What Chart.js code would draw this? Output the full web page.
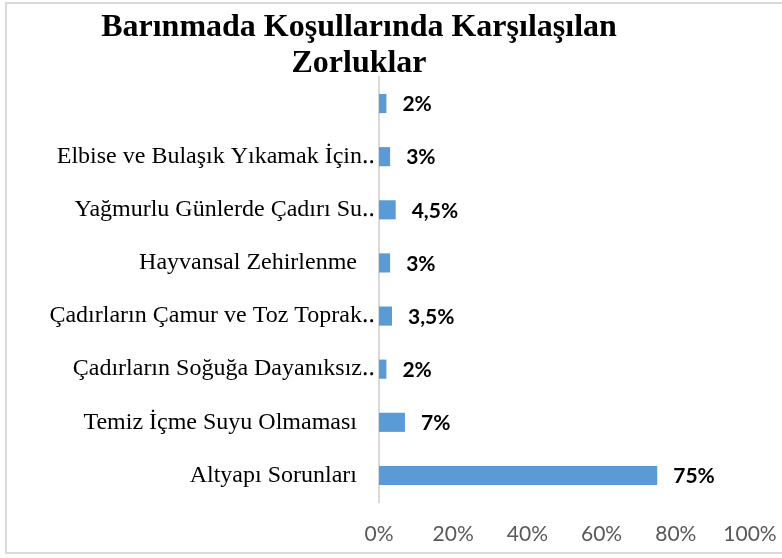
<!DOCTYPE html>
<html>
<head>
<meta charset="utf-8">
<script src="https://cdn.jsdelivr.net/npm/chart.js@4/dist/chart.umd.min.js"></script>
<style>
  html, body { margin: 0; padding: 0; background: #fff; }
  #wrap { position: relative; width: 782px; height: 558px; overflow: hidden; }
  #frame {
    position: absolute; left: 5px; top: 2px; width: 800px; height: 552px;
    border: 2px solid #d9d9d9; box-sizing: border-box;
  }
  #chart { position: absolute; left: 0; top: 0; }
</style>
</head>
<body>
<div id="wrap">
  <div id="frame"></div>
  <canvas id="chart" width="782" height="558"></canvas>
</div>
<script>
// Chart data
const titleLines = ['Barınmada Koşullarında Karşılaşılan', 'Zorluklar'];
const categories = [
    '',
    'Elbise ve Bulaşık Yıkamak İçin‥',
    'Yağmurlu Günlerde Çadırı Su‥',
    'Hayvansal Zehirlenme   ',
    'Çadırların Çamur ve Toz Toprak‥',
    'Çadırların Soğuğa Dayanıksız‥',
    'Temiz İçme Suyu Olmaması   ',
    'Altyapı Sorunları   '
];
const values = [2, 3, 4.5, 3, 3.5, 2, 7, 75];
const xTicks = [0, 20, 40, 60, 80, 100];

const barColor = '#5b9bd5';

// Two line title, placed like the Excel original (left of centre)
const titlePlugin = {
    id: 'chartTitle',
    afterDraw(chart) {
        const ctx = chart.ctx;
        ctx.save();
        ctx.font = 'bold 32px "Liberation Serif", "Times New Roman", serif';
        ctx.fillStyle = '#000';
        ctx.textAlign = 'center';
        ctx.textBaseline = 'alphabetic';
        const baselines = [36, 72];
        titleLines.forEach((line, i) => {
            ctx.fillText(line, 359, baselines[i]);
        });
        ctx.restore();
    }
};

// Value labels at the end of each bar
const valueLabelPlugin = {
    id: 'valueLabels',
    afterDatasetsDraw(chart) {
        const ctx = chart.ctx;
        const meta = chart.getDatasetMeta(0);
        ctx.save();
        ctx.font = 'bold 21px Lato, "Open Sans", sans-serif';
        ctx.fillStyle = '#000';
        ctx.textAlign = 'left';
        ctx.textBaseline = 'middle';
        meta.data.forEach((bar, i) => {
            const txt = String(values[i]).replace('.', ',') + '%';
            ctx.fillText(txt, bar.x + 16, bar.y + 1);
        });
        ctx.restore();
    }
};

const ctx = document.getElementById('chart');

new Chart(ctx, {
    type: 'bar',
    data: {
        labels: categories,
        datasets: [{
            data: values,
            backgroundColor: barColor,
            borderWidth: 0,
            categoryPercentage: 1,
            barPercentage: 0.36
        }]
    },
    options: {
        indexAxis: 'y',
        responsive: false,
        animation: false,
        layout: { padding: { left: 0, top: 77, right: 32, bottom: 0 } },
        plugins: {
            legend: { display: false },
            tooltip: { enabled: false }
        },
        scales: {
            x: {
                min: 0,
                max: 100,
                afterBuildTicks: (scale) => {
                    scale.ticks = xTicks.map(v => ({ value: v }));
                },
                afterFit: (scale) => {
                    scale.height = 56;
                    // don't let the tick padding eat into the plot width
                    scale.paddingLeft = 0;
                    scale.paddingRight = 0;
                },
                grid: { display: false, drawTicks: false },
                border: { display: false },
                ticks: {
                    color: '#595959',
                    padding: 20,
                    font: { family: 'Lato', size: 21 },
                    maxRotation: 0,
                    callback: (v) => v + '%'
                }
            },
            y: {
                afterFit: (scale) => { scale.width = 379; },
                grid: { display: false, drawTicks: false },
                border: { display: true, color: '#d9d9d9', width: 2 },
                ticks: {
                    color: '#000',
                    padding: 4,
                    autoSkip: false,
                    font: { family: '"Liberation Serif", "Times New Roman", serif', size: 24 }
                }
            }
        }
    },
    plugins: [titlePlugin, valueLabelPlugin]
});
</script>
</body>
</html>
